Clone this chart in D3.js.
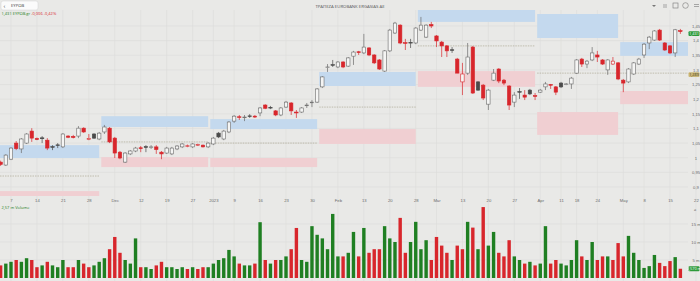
<!DOCTYPE html>
<html>
<head>
<meta charset="utf-8">
<script src="https://cdn.jsdelivr.net/npm/d3@7"></script>
<style>
  body { margin: 0; background: #e9e9e7; overflow: hidden; }
  svg { display: block; font-family: "Open Sans", "Noto Sans", sans-serif; }
</style>
</head>
<body>
<svg id="chart" width="700" height="281"></svg>
<script>
// Athens exchange trading calendar, Nov 3 2022 .. May 22 2023
const firstDay = "2022-11-03";
const lastDay = "2023-05-22";
const holidays = ["2022-12-26", "2023-01-06", "2023-02-27", "2023-04-07", "2023-04-10", "2023-04-14", "2023-04-17", "2023-05-01"];

const tickDates = ["2022-11-07", "2022-11-14", "2022-11-21", "2022-11-28", "2022-12-05", "2022-12-12", "2022-12-19", "2022-12-27",
  "2023-01-02", "2023-01-09", "2023-01-16", "2023-01-23", "2023-01-30", "2023-02-06", "2023-02-13", "2023-02-20", "2023-02-28",
  "2023-03-06", "2023-03-13", "2023-03-20", "2023-03-27", "2023-04-03", "2023-04-11", "2023-04-18", "2023-04-24",
  "2023-05-02", "2023-05-08", "2023-05-15", "2023-05-22"];
const tickLabels = ["7", "14", "21", "28", "Dec", "12", "19", "27", "2023", "9", "16", "23", "30", "Feb", "13", "20", "28",
  "Mar", "13", "20", "27", "Apr", "11", "18", "24", "May", "8", "15", "22"];

// daily candles, first one = Nov 3 2022
const open = [0.985, 0.975, 0.995, 1.050, 1.030, 1.050, 1.091, 1.066, 1.068, 1.060, 1.038, 1.044, 1.037, 1.074, 1.073, 1.074, 1.101, 1.062, 1.081, 1.064,
  1.088, 1.101, 1.067, 1.019, 0.985, 1.013, 1.023, 1.034, 1.038, 1.036, 1.037, 1.019, 1.016, 1.013, 1.030, 1.037, 1.040, 1.037, 1.044, 1.043,
  1.037, 1.047, 1.084, 1.064, 1.088, 1.125, 1.140, 1.138, 1.143, 1.142, 1.153, 1.180, 1.172, 1.160, 1.146, 1.173, 1.187, 1.156, 1.156, 1.179,
  1.189, 1.190, 1.242, 1.309, 1.318, 1.310, 1.327, 1.313, 1.347, 1.362, 1.358, 1.375, 1.351, 1.334, 1.296, 1.365, 1.426, 1.453, 1.393, 1.394,
  1.392, 1.436, 1.412, 1.455, 1.416, 1.395, 1.382, 1.369, 1.337, 1.259, 1.289, 1.378, 1.259, 1.248, 1.183, 1.265, 1.303, 1.265, 1.245, 1.190,
  1.226, 1.214, 1.231, 1.212, 1.224, 1.242, 1.250, 1.242, 1.255, 1.251, 1.252, 1.289, 1.337, 1.320, 1.334, 1.351, 1.334, 1.300, 1.320, 1.324,
  1.265, 1.259, 1.286, 1.320, 1.351, 1.392, 1.402, 1.436, 1.392, 1.382, 1.358, 1.434];
const high = [0.990, 1.012, 1.036, 1.057, 1.067, 1.084, 1.101, 1.069, 1.074, 1.067, 1.043, 1.050, 1.084, 1.077, 1.078, 1.108, 1.104, 1.081, 1.084, 1.088,
  1.112, 1.105, 1.071, 1.023, 1.019, 1.026, 1.037, 1.040, 1.043, 1.043, 1.043, 1.023, 1.037, 1.037, 1.043, 1.050, 1.045, 1.050, 1.048, 1.045,
  1.053, 1.071, 1.088, 1.095, 1.125, 1.146, 1.146, 1.146, 1.149, 1.146, 1.173, 1.183, 1.177, 1.163, 1.173, 1.194, 1.190, 1.163, 1.173, 1.187,
  1.197, 1.238, 1.279, 1.320, 1.334, 1.330, 1.330, 1.344, 1.365, 1.365, 1.423, 1.378, 1.354, 1.337, 1.368, 1.440, 1.464, 1.456, 1.406, 1.406,
  1.446, 1.481, 1.456, 1.464, 1.419, 1.399, 1.385, 1.378, 1.341, 1.324, 1.392, 1.382, 1.262, 1.252, 1.235, 1.303, 1.306, 1.269, 1.248, 1.224,
  1.238, 1.231, 1.235, 1.221, 1.235, 1.259, 1.252, 1.245, 1.259, 1.255, 1.276, 1.337, 1.341, 1.334, 1.378, 1.365, 1.337, 1.337, 1.344, 1.327,
  1.269, 1.306, 1.327, 1.341, 1.392, 1.416, 1.436, 1.440, 1.395, 1.385, 1.440, 1.440];
const low = [0.972, 0.972, 0.992, 1.026, 1.016, 1.047, 1.054, 1.060, 1.050, 1.026, 1.026, 1.033, 1.033, 1.067, 1.066, 1.067, 1.085, 1.060, 1.064, 1.060,
  1.081, 1.050, 0.999, 0.995, 0.982, 1.009, 1.019, 1.019, 1.019, 1.030, 1.013, 0.995, 1.013, 1.009, 1.026, 1.033, 1.036, 1.033, 1.040, 1.035,
  1.033, 1.043, 1.067, 1.060, 1.084, 1.119, 1.129, 1.125, 1.136, 1.136, 1.142, 1.166, 1.166, 1.142, 1.142, 1.170, 1.146, 1.136, 1.153, 1.170,
  1.173, 1.187, 1.238, 1.293, 1.310, 1.306, 1.306, 1.310, 1.317, 1.351, 1.354, 1.347, 1.320, 1.300, 1.293, 1.361, 1.423, 1.388, 1.368, 1.375,
  1.388, 1.433, 1.409, 1.443, 1.378, 1.344, 1.344, 1.358, 1.289, 1.214, 1.283, 1.218, 1.228, 1.197, 1.163, 1.262, 1.255, 1.248, 1.163, 1.173,
  1.201, 1.197, 1.214, 1.197, 1.221, 1.231, 1.235, 1.214, 1.238, 1.248, 1.235, 1.286, 1.310, 1.306, 1.330, 1.327, 1.317, 1.283, 1.317, 1.265,
  1.224, 1.255, 1.283, 1.317, 1.341, 1.371, 1.399, 1.399, 1.365, 1.354, 1.344, 1.423];
const close = [0.977, 1.009, 1.033, 1.031, 1.064, 1.081, 1.067, 1.062, 1.065, 1.033, 1.036, 1.042, 1.081, 1.070, 1.069, 1.101, 1.088, 1.066, 1.067, 1.084,
  1.105, 1.054, 1.016, 0.999, 1.016, 1.023, 1.033, 1.031, 1.035, 1.037, 1.028, 1.013, 1.033, 1.033, 1.040, 1.047, 1.041, 1.047, 1.045, 1.037,
  1.050, 1.067, 1.071, 1.091, 1.122, 1.142, 1.138, 1.139, 1.141, 1.139, 1.170, 1.169, 1.170, 1.146, 1.170, 1.190, 1.160, 1.153, 1.170, 1.180,
  1.190, 1.235, 1.276, 1.310, 1.316, 1.327, 1.310, 1.341, 1.361, 1.359, 1.378, 1.351, 1.324, 1.303, 1.365, 1.436, 1.460, 1.392, 1.391, 1.393,
  1.443, 1.453, 1.453, 1.450, 1.399, 1.382, 1.365, 1.367, 1.289, 1.286, 1.344, 1.221, 1.231, 1.204, 1.231, 1.289, 1.262, 1.255, 1.180, 1.214,
  1.224, 1.207, 1.218, 1.210, 1.231, 1.252, 1.248, 1.224, 1.242, 1.252, 1.272, 1.334, 1.320, 1.330, 1.358, 1.344, 1.320, 1.334, 1.330, 1.269,
  1.255, 1.303, 1.324, 1.337, 1.388, 1.412, 1.433, 1.402, 1.368, 1.358, 1.437, 1.431];
// volume in millions of shares
const volume = [3.5, 4, 4.5, 5, 4.5, 5.5, 5, 3, 3.5, 4.5, 3.5, 3, 5, 3, 3, 5, 4, 3, 3.5, 4.5,
  5.5, 8, 11.4, 7, 5, 4, 11, 3, 3, 2.5, 3.5, 4.5, 3, 3, 2.5, 3, 2.5, 3, 2.5, 3,
  3, 4, 5, 5.5, 7.8, 6, 4, 3.5, 3.5, 4, 15.5, 5, 4, 5, 5, 6, 8, 13.9, 5, 4.5,
  14.4, 12, 11, 8, 17.8, 6, 6, 7, 12.8, 6, 13.9, 7, 8, 8, 14.4, 11, 10, 16.7, 7, 10,
  15.6, 8, 10.5, 5, 11.4, 9, 7, 5, 9, 8, 15.6, 14, 8, 19.7, 9, 12.8, 7, 6, 10.5, 6,
  5, 4, 4.5, 3.5, 4, 14.4, 4, 5, 4, 3.5, 5, 10.5, 6, 5, 10, 5, 6, 6, 5, 9.7,
  6, 11.7, 7, 5.0, 2.8, 3.3, 6.4, 4.2, 3.3, 4.7, 5.8, 2.57];

// monthly zones: buy (blue), sell (pink) and pivot (dashed)
const zoneStart = ["2022-11-03", "2022-12-01", "2023-01-02", "2023-02-01", "2023-03-01", "2023-04-03", "2023-05-02"];
const zoneEnd = ["2022-11-30", "2022-12-30", "2023-01-31", "2023-02-28", "2023-03-31", "2023-04-28", "2023-05-22"];
const blueHi = [1.043, 1.142, 1.132, 1.293, 1.505, 1.491, 1.395];
const blueLo = [0.999, 1.105, 1.098, 1.245, 1.464, 1.409, 1.348];
const pinkHi = [0.886, 1.002, 0.999, 1.098, 1.296, 1.156, 1.228];
const pinkLo = [0.850, 0.968, 0.968, 1.047, 1.242, 1.078, 1.183];
const pivot = [0.9375, 1.054, 1.050, 1.173, 1.382, 1.289, 1.289];

const priceTicks = [0.9, 0.95, 1, 1.05, 1.1, 1.15, 1.2, 1.25, 1.3, 1.35, 1.4, 1.45];
const volTicks = [5, 10, 15];

const fmtDay = d3.timeFormat("%Y-%m-%d");
const parse = d3.timeParse("%Y-%m-%d");
const days = d3.timeDay.range(parse(firstDay), d3.timeDay.offset(parse(lastDay), 1))
  .filter(d => d.getDay() !== 0 && d.getDay() !== 6 && !holidays.includes(fmtDay(d)))
  .map(fmtDay);
const idx = s => days.indexOf(s);

const gr = d3.formatLocale({ decimal: ",", thousands: ".", grouping: [3], currency: ["", "€"] });
const fmtPrice = gr.format("~g");

const W = 700, H = 281, plotR = 688;
const priceTop = 10, priceBot = 196, volTop = 204, volBot = 281;

const x = d3.scaleLinear().domain([idx("2022-11-07"), idx("2023-05-15")]).range([11, 670]);
const step = x(1) - x(0);
const y = d3.scaleLinear().domain([0.9, 1.45]).range([187, 26]);
const yv = d3.scaleLinear().domain([0, 15]).range([278, 224]);

const bars = open.map((o, i) => ({
  i, o, h: high[i], l: low[i], c: close[i], v: volume[i],
  prev: i > 0 ? close[i - 1] : open[i]
}));

const svg = d3.select("#chart");
const RED = "#d8262c", GREEN = "#1f7f22", GRID = "#dcdcda", TXT = "#6b6b6b";

svg.append("rect").attr("width", W).attr("height", H).attr("fill", "#e9e9e7");

svg.append("clipPath").attr("id", "pclip").append("rect")
  .attr("x", 0).attr("y", priceTop).attr("width", plotR).attr("height", priceBot - priceTop);
svg.append("clipPath").attr("id", "vclip").append("rect")
  .attr("x", 0).attr("y", volTop).attr("width", plotR).attr("height", volBot - volTop);

// grid
const grid = svg.append("g").attr("stroke", GRID).attr("stroke-width", 0.6);
grid.selectAll(".vg").data(tickDates).join("line")
  .attr("x1", d => x(idx(d))).attr("x2", d => x(idx(d)))
  .attr("y1", priceTop).attr("y2", H);
grid.selectAll(".hg").data(priceTicks).join("line")
  .attr("x1", 0).attr("x2", plotR).attr("y1", d => y(d)).attr("y2", d => y(d));
grid.selectAll(".vhg").data(volTicks).join("line")
  .attr("x1", 0).attr("x2", plotR).attr("y1", d => yv(d)).attr("y2", d => yv(d));

// zones
const zones = zoneStart.map((s, k) => ({
  x0: x(idx(s)) - step * 0.6, x1: Math.min(x(idx(zoneEnd[k])), plotR),
  bh: blueHi[k], bl: blueLo[k], ph: pinkHi[k], pl: pinkLo[k], pv: pivot[k]
}));
const zg = svg.append("g").attr("clip-path", "url(#pclip)");
zg.selectAll(".bz").data(zones).join("rect")
  .attr("x", d => d.x0).attr("width", d => d.x1 - d.x0)
  .attr("y", d => y(d.bh)).attr("height", d => y(d.bl) - y(d.bh))
  .attr("fill", "#c4d9ee");
zg.selectAll(".pz").data(zones).join("rect")
  .attr("x", d => d.x0).attr("width", d => d.x1 - d.x0)
  .attr("y", d => y(d.ph)).attr("height", d => y(d.pl) - y(d.ph))
  .attr("fill", "#f0cfd2");
zg.selectAll(".pv").data(zones).join("line")
  .attr("x1", d => d.x0).attr("x2", d => d.x1)
  .attr("y1", d => y(d.pv)).attr("y2", d => y(d.pv))
  .attr("stroke", "#a39d86").attr("stroke-width", 0.6).attr("stroke-dasharray", "1.5,1");

// candles
const bw = 3.4;
const style = d => {
  const up = d.c >= d.o;
  const red = d.c < d.prev;
  if (up) return { fill: "#f5f5f4", stroke: red ? RED : "#6a6a6a" };
  return red ? { fill: RED, stroke: RED } : { fill: "#4a4a4a", stroke: "#4a4a4a" };
};
const cg = svg.append("g").attr("clip-path", "url(#pclip)");
const candle = cg.selectAll(".c").data(bars).join("g");
candle.append("line")
  .attr("x1", d => x(d.i)).attr("x2", d => x(d.i))
  .attr("y1", d => y(d.h)).attr("y2", d => y(d.l))
  .attr("stroke", d => style(d).stroke).attr("stroke-width", 0.7);
candle.append("rect")
  .attr("x", d => x(d.i) - bw / 2).attr("width", bw)
  .attr("y", d => y(Math.max(d.o, d.c)))
  .attr("height", d => Math.max(0.7, Math.abs(y(d.o) - y(d.c))))
  .attr("fill", d => style(d).fill).attr("stroke", d => style(d).stroke).attr("stroke-width", 0.6);

// volume, coloured like its candle
svg.append("g").attr("clip-path", "url(#vclip)")
  .selectAll("rect").data(bars).join("rect")
  .attr("x", d => x(d.i) - bw / 2).attr("width", bw)
  .attr("y", d => yv(d.v)).attr("height", d => yv(0) - yv(d.v))
  .attr("fill", d => d.c >= d.prev ? GREEN : RED);

// price axis
const pa = svg.append("g").attr("transform", `translate(${plotR + 8},0)`)
  .call(d3.axisRight(y).tickValues(priceTicks).tickFormat(fmtPrice).tickSize(0).tickPadding(0));
pa.select(".domain").remove();
pa.selectAll("text").attr("text-anchor", "middle").attr("font-size", 4.2).attr("fill", TXT);

// volume axis
const va = svg.append("g").attr("transform", `translate(${plotR + 8},0)`)
  .call(d3.axisRight(yv).tickValues(volTicks).tickFormat(d => d + " m").tickSize(0).tickPadding(0));
va.select(".domain").remove();
va.selectAll("text").attr("text-anchor", "middle").attr("font-size", 4.2).attr("fill", TXT);

// time axis
const ta = svg.append("g").attr("transform", `translate(0,${priceBot + 2})`)
  .call(d3.axisBottom(x).tickValues(tickDates.map(idx)).tickFormat((d, k) => tickLabels[k]).tickSize(0).tickPadding(1));
ta.select(".domain").remove();
ta.selectAll("text").attr("font-size", 4.2).attr("fill", TXT);

// value badges on the right
const badge = (yy, txt, fill, col) => {
  svg.append("rect").attr("x", plotR + 0.5).attr("y", yy - 2.4).attr("width", 11).attr("height", 4.8).attr("rx", 1).attr("fill", fill);
  svg.append("text").attr("x", plotR + 6).attr("y", yy + 1.4).attr("text-anchor", "middle")
    .attr("font-size", 3.8).attr("fill", col).text(txt);
};
const last = bars[bars.length - 1];
badge(y(last.c) + 2, fmtPrice(last.c), "#2c9a3a", "#fff");
badge(y(pivot[pivot.length - 1]) + 1.5, fmtPrice(pivot[pivot.length - 1]), "#c9b679", "#4a3f1f");
badge(yv(last.v), gr.format(".3f")(last.v) + " m", "#2c9a3a", "#fff");

// header
const sb = svg.append("g");
sb.append("rect").attr("x", 1).attr("y", 1).attr("width", 37).attr("height", 9).attr("rx", 2)
  .attr("fill", "#fbfbfb").attr("stroke", "#d2d2d2").attr("stroke-width", 0.5);
sb.append("text").attr("x", 3.5).attr("y", 7.6).attr("font-size", 6).attr("fill", "#444").text("‹");
sb.append("text").attr("x", 11).attr("y", 7.2).attr("font-size", 4.2).attr("fill", "#444").text("ΕΥΡΩΒ");

svg.append("text").attr("x", 350).attr("y", 7.5).attr("text-anchor", "middle")
  .attr("font-size", 4.3).attr("fill", "#555").text("ΤΡΑΠΕΖΑ EUROBANK ERGASIAS AE");

const lg = svg.append("text").attr("x", 1.5).attr("y", 14.5).attr("font-size", 4);
lg.append("tspan").attr("fill", GREEN).text(fmtPrice(last.c) + " ΕΥΡΩΒ.gr ");
lg.append("tspan").attr("fill", RED).text(gr.format("+.3f")(last.c - last.prev).replace("−", "-") + " " + gr.format("+.2%")((last.c - last.prev) / last.prev).replace("−", "-"));

svg.append("text").attr("x", 1.5).attr("y", 209).attr("font-size", 4).attr("fill", GREEN)
  .text(gr.format(".2f")(last.v) + " m Volume");

// toolbar icons
const tb = svg.append("g").attr("fill", "none").attr("stroke", "#777").attr("stroke-width", 0.6);
tb.append("path").attr("d", "M652,5 l2,2 l2,-2").attr("fill", "#777").attr("stroke", "none");
tb.append("path").attr("d", "M664,4 v4 M666,4 v4");
tb.append("rect").attr("x", 673).attr("y", 3).attr("width", 5).attr("height", 5);
tb.append("circle").attr("cx", 685.5).attr("cy", 5.5).attr("r", 2.8);
tb.append("path").attr("d", "M694,4.5 h5 M694,6.5 h5");
svg.append("text").attr("x", 695).attr("y", 211).attr("text-anchor", "middle").attr("font-size", 4).attr("fill", "#555").text("a");
</script>
</body>
</html>
